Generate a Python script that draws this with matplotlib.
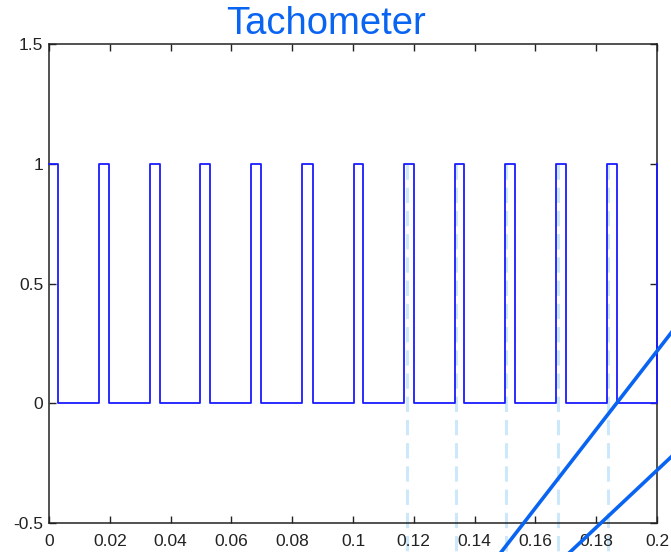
import matplotlib
matplotlib.use("Agg")
import matplotlib.pyplot as plt
import numpy as np

plt.rcParams['font.family'] = ['Liberation Sans', 'DejaVu Sans']

# Tachometer pulse edges (seconds)
rise_times = [0.0, 0.0166, 0.0332, 0.0498, 0.0664, 0.0831, 0.1002,
              0.1169, 0.1335, 0.1500, 0.1668, 0.1835, 0.2000]
fall_times = [0.0031, 0.0198, 0.0365, 0.0531, 0.0697, 0.0867, 0.1034,
              0.1201, 0.1366, 0.1534, 0.1700, 0.1870]
pulse_high = 1.0
pulse_low = 0.0

# Marked pulse edges (dashed guides)
marker_times = [0.1176, 0.1339, 0.1503, 0.1675, 0.1839]
marker_top = 1.0
marker_bottom = -0.65

# Two straight trend lines (x pairs, y pairs)
trend_a_x = [0.1470, 0.2100]
trend_a_y = [-0.65, 0.3815]
trend_b_x = [0.1690, 0.2100]
trend_b_y = [-0.65, -0.1604]

x_ticks = [0, 0.02, 0.04, 0.06, 0.08, 0.1, 0.12, 0.14, 0.16, 0.18, 0.2]
x_tick_labels = ['0', '0.02', '0.04', '0.06', '0.08', '0.1', '0.12',
                 '0.14', '0.16', '0.18', '0.2']
y_ticks = [-0.5, 0, 0.5, 1, 1.5]
y_tick_labels = ['-0.5', '0', '0.5', '1', '1.5']

# Build the stepped waveform from the edge lists
t = [rise_times[0]]
v = [pulse_high]
for i, f in enumerate(fall_times):
    t += [f, f]
    v += [pulse_high, pulse_low]
    r = rise_times[i + 1]
    t += [r, r]
    v += [pulse_low, pulse_high]

fig = plt.figure(figsize=(6.71, 5.52), dpi=100)
ax = fig.add_axes([49 / 671, 29 / 552, 608 / 671, 479 / 552])

for m in marker_times:
    ax.plot([m, m], [marker_top, marker_bottom], color='#cde8fa', lw=2.2,
            dashes=(5, 2.6), clip_on=False, zorder=1)

ax.plot(t, v, color='#1a1aff', lw=1.3, zorder=3, clip_on=False)

ax.plot(trend_a_x, trend_a_y, color='#0a64f2', lw=2.6, clip_on=False, zorder=4)
ax.plot(trend_b_x, trend_b_y, color='#0a64f2', lw=2.6, clip_on=False, zorder=4)

ax.set_xlim(0, 0.2)
ax.set_ylim(-0.5, 1.5)
ax.set_xticks(x_ticks)
ax.set_xticklabels(x_tick_labels)
ax.set_yticks(y_ticks)
ax.set_yticklabels(y_tick_labels)
ax.tick_params(direction='in', length=5, width=1, top=True, right=True,
               labelsize=12.5, colors='#222222')
ax.tick_params(axis='x', pad=8)
ax.tick_params(axis='y', pad=4)
for s in ax.spines.values():
    s.set_linewidth(1.1)
    s.set_color('#222222')

ax.set_title('Tachometer', color='#0a64f2', fontsize=27.5, pad=7, x=0.456)

fig.savefig('out.png', dpi=100)
